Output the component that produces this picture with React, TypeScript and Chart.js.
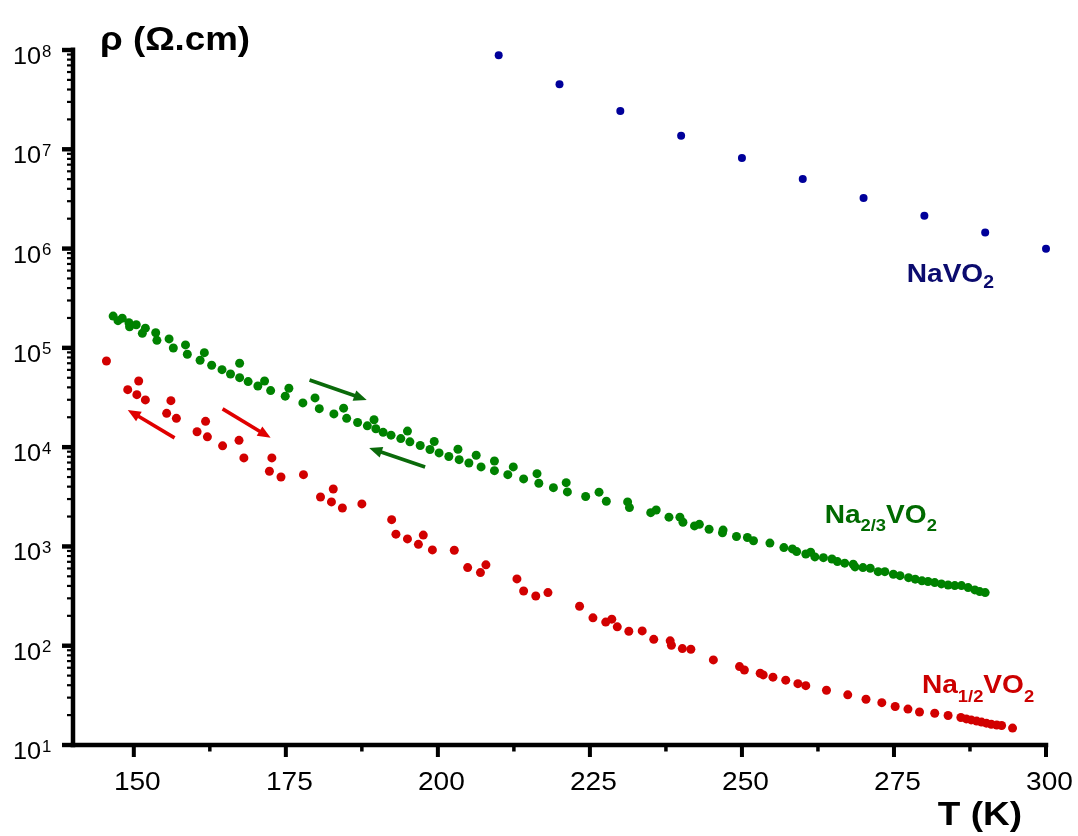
import React, { useEffect, useRef } from 'react';
import { Chart, registerables } from 'chart.js';

Chart.register(...registerables);

// ---- Data (T in K, rho in Ohm.cm) ----
const blueT = [210, 220, 230, 240, 250, 260, 270, 280, 290, 300];
const blueRho = [8.85e7, 4.51e7, 2.43e7, 1.37e7, 8.17e6, 5.02e6, 3.24e6, 2.14e6, 1.45e6, 9.93e5];

const greenT = [
  146.6, 147.4, 148.1, 149.2, 149.3, 150.4, 151.4, 151.9, 153.6, 153.8,
  155.8, 156.5, 158.5, 158.8, 160.9, 161.6, 162.8, 164.5, 165.9, 167.4,
  167.4, 168.8, 170.4, 171.5, 172.5, 174.9, 175.5, 177.8, 179.8, 180.5,
  182.9, 184.5, 185.0, 186.8, 188.4, 189.5, 189.8, 191.0, 192.3, 193.9,
  195.0, 195.4, 197.1, 198.7, 199.4, 200.2, 201.8, 203.3, 203.5, 205.1,
  206.3, 207.1, 209.3, 209.3, 211.5, 212.4, 214.1, 216.3, 216.6, 219.0,
  221.1, 221.3, 224.3, 226.5, 227.7, 231.2, 231.5, 235.0, 235.9, 238.0,
  239.8, 240.3, 242.2, 243.0, 244.6, 246.8, 246.9, 249.1, 250.9, 251.9,
  254.6, 256.9, 258.3, 259.0, 260.5, 261.3, 262.0, 263.4, 264.8, 265.7,
  266.9, 268.3, 268.6, 269.9, 271.1, 272.4, 273.5, 274.9, 276.0, 277.4,
  278.5, 279.6, 280.6, 281.7, 282.8, 283.9, 285.0, 286.1, 287.2, 288.3,
  289.1, 290.0,
];
const greenRho = [
  2.09e5, 1.88e5, 1.99e5, 1.79e5, 1.63e5, 1.71e5, 1.40e5, 1.58e5, 1.42e5, 1.19e5,
  1.23e5, 9.98e4, 1.07e5, 8.63e4, 7.50e4, 8.95e4, 6.68e4, 6.03e4, 5.46e4, 7.00e4,
  5.01e4, 4.57e4, 4.13e4, 4.64e4, 3.71e4, 3.26e4, 3.92e4, 2.79e4, 3.13e4, 2.44e4,
  2.16e4, 2.47e4, 1.95e4, 1.77e4, 1.64e4, 1.89e4, 1.53e4, 1.41e4, 1.32e4, 1.22e4,
  1.45e4, 1.13e4, 1.04e4, 9.48e3, 1.14e4, 8.75e3, 8.05e3, 9.53e3, 7.48e3, 6.93e3,
  8.28e3, 6.32e3, 7.26e3, 5.80e3, 5.28e3, 6.32e3, 4.79e3, 5.41e3, 4.33e3, 3.91e3,
  4.39e3, 3.54e3, 3.18e3, 3.52e3, 2.85e3, 2.81e3, 2.46e3, 2.19e3, 2.33e3, 1.97e3,
  1.97e3, 1.75e3, 1.61e3, 1.67e3, 1.49e3, 1.37e3, 1.46e3, 1.26e3, 1.23e3, 1.14e3,
  1.08e3, 973, 944, 887, 840, 875, 784, 771, 748, 703,
  678, 662, 622, 612, 603, 557, 557, 525, 508, 485,
  468, 450, 443, 432, 419, 409, 403, 403, 385, 365,
  351, 343,
];

const redT = [
  145.5, 149.0, 150.5, 150.8, 151.9, 155.4, 156.1, 157.0, 160.4, 161.8,
  162.1, 164.6, 167.3, 168.1, 172.3, 172.7, 174.2, 177.9, 180.7, 182.5,
  182.8, 184.3, 187.5, 192.4, 193.1, 195.0, 196.8, 197.6, 199.1, 202.7,
  204.9, 207.0, 207.9, 213.0, 214.1, 216.1, 218.1, 223.3, 225.5, 227.6,
  228.6, 229.5, 231.4, 233.6, 235.5, 238.2, 238.4, 240.2, 241.6, 245.3,
  249.6, 250.4, 253.0, 253.5, 255.1, 257.2, 259.2, 260.5, 263.9, 267.4,
  270.4, 273.0, 275.2, 277.3, 279.2, 281.7, 283.9, 286.0, 286.9, 287.7,
  288.6, 289.4, 290.2, 291.0, 291.9, 292.7, 294.5,
];
const redRho = [
  7.38e4, 3.79e4, 3.38e4, 4.64e4, 2.99e4, 2.19e4, 2.94e4, 1.95e4, 1.43e4, 1.82e4,
  1.27e4, 1.03e4, 1.17e4, 7.79e3, 5.72e3, 7.79e3, 5.01e3, 5.28e3, 3.15e3, 2.81e3,
  3.79e3, 2.44e3, 2.68e3, 1.86e3, 1.33e3, 1.19e3, 1.05e3, 1.30e3, 922, 916,
  612, 545, 652, 471, 356, 317, 343, 250, 191, 173,
  185, 155, 140, 141, 116, 112, 101, 93.5, 92.2, 71.9,
  61.6, 57.0, 52.8, 50.8, 48.2, 45.0, 41.5, 39.6, 35.6, 32.0,
  28.9, 26.7, 24.4, 23.0, 21.5, 20.9, 19.8, 18.9, 18.3, 17.9,
  17.4, 17.0, 16.6, 16.2, 15.9, 15.7, 14.8,
];

// ---- Axis ticks ----
const xMajorTicks = [150, 175, 200, 225, 250, 275, 300];
const xMinorTicks = [162.5, 187.5, 212.5, 237.5, 262.5, 287.5];
const yMajorExps = [1, 2, 3, 4, 5, 6, 7, 8];
const yMinorMults = [2, 3, 4, 5, 6, 7, 8, 9];

// ---- Annotations (data coordinates) ----
const greenArrows = [
  { from: [178.9, 4.75e4], to: [188.3, 2.99e4] },
  { from: [197.9, 6.3e3], to: [188.7, 9.8e3] },
];
const redArrows = [
  { from: [156.7, 1.24e4], to: [149.0, 2.37e4] },
  { from: [164.6, 2.43e4], to: [172.5, 1.24e4] },
];

const seriesLabels = [
  { parts: [['NaVO', 0], ['2', 1]], T: 277.1, rho: 4.65e5, color: '#0b0b6e', sub: 18, subDy: 6.6 },
  { parts: [['Na', 0], ['2/3', 1], ['VO', 0], ['2', 1]], T: 263.6, rho: 1.74e3, color: '#006a00', sub: 17, subDy: 8 },
  { parts: [['Na', 0], ['1/2', 1], ['VO', 0], ['2', 1]], T: 279.6, rho: 33.3, color: '#cc0000', sub: 17, subDy: 8.4 },
];

const FONT = '"Liberation Sans", Arial, Helvetica, sans-serif';

function drawText(ctx: CanvasRenderingContext2D, text: string, x: number, y: number, font: string, stretch: number, align: string) {
  ctx.font = font;
  const w = ctx.measureText(text).width * stretch;
  let left = x;
  if (align === 'center') left = x - w / 2;
  else if (align === 'right') left = x - w;
  ctx.save();
  ctx.translate(left, y);
  ctx.scale(stretch, 1);
  ctx.textAlign = 'left';
  ctx.textBaseline = 'alphabetic';
  ctx.fillText(text, 0, 0);
  ctx.restore();
  return w;
}

function drawArrow(ctx: CanvasRenderingContext2D, x1: number, y1: number, x2: number, y2: number, color: string) {
  const ang = Math.atan2(y2 - y1, x2 - x1);
  const headLen = 13;
  const headHalf = 5.5;
  const bx = x2 - headLen * Math.cos(ang);
  const by = y2 - headLen * Math.sin(ang);
  ctx.save();
  ctx.strokeStyle = color;
  ctx.fillStyle = color;
  ctx.lineWidth = 3.6;
  ctx.lineCap = 'butt';
  ctx.beginPath();
  ctx.moveTo(x1, y1);
  ctx.lineTo(bx + 2 * Math.cos(ang), by + 2 * Math.sin(ang));
  ctx.stroke();
  ctx.beginPath();
  ctx.moveTo(x2, y2);
  ctx.lineTo(bx - headHalf * Math.sin(ang), by + headHalf * Math.cos(ang));
  ctx.lineTo(bx + headHalf * Math.sin(ang), by - headHalf * Math.cos(ang));
  ctx.closePath();
  ctx.fill();
  ctx.restore();
}

const decorPlugin = {
  id: 'decor',
  afterDatasetsDraw(chart: any) {
    const { ctx, chartArea: ca, scales } = chart;
    const xs = scales.x;
    const ys = scales.y;
    ctx.save();

    // arrows
    greenArrows.forEach((a) => {
      drawArrow(ctx, xs.getPixelForValue(a.from[0]), ys.getPixelForValue(a.from[1]),
        xs.getPixelForValue(a.to[0]), ys.getPixelForValue(a.to[1]), '#0a6a0a');
    });
    redArrows.forEach((a) => {
      drawArrow(ctx, xs.getPixelForValue(a.from[0]), ys.getPixelForValue(a.from[1]),
        xs.getPixelForValue(a.to[0]), ys.getPixelForValue(a.to[1]), '#e00000');
    });

    // axes
    ctx.fillStyle = '#000';
    ctx.fillRect(ca.left - 2.25, ca.top - 2.5, 4.5, ca.bottom - ca.top + 4.75);
    ctx.fillRect(ca.left - 2.25, ca.bottom - 2.25, ca.right - ca.left + 4.5, 4.5);

    // y ticks
    yMajorExps.forEach((e) => {
      const py = ys.getPixelForValue(Math.pow(10, e));
      ctx.fillRect(ca.left - 11, py - 2.2, 9, 4.4);
    });
    for (let e = 1; e < 8; e++) {
      yMinorMults.forEach((m) => {
        const py = ys.getPixelForValue(m * Math.pow(10, e));
        ctx.fillRect(ca.left - 6, py - 1.1, 4, 2.2);
      });
    }
    // x ticks
    xMajorTicks.forEach((t) => {
      const px = xs.getPixelForValue(t);
      ctx.fillRect(px - 2, ca.bottom, 4, 12);
    });
    xMinorTicks.forEach((t) => {
      const px = xs.getPixelForValue(t);
      ctx.fillRect(px - 1.75, ca.bottom, 3.5, 6.5);
    });

    // tick labels
    ctx.fillStyle = '#000';
    xMajorTicks.forEach((t) => {
      const px = xs.getPixelForValue(t);
      drawText(ctx, String(t), px + 3.5, ca.bottom + 45, `26px ${FONT}`, 1.08, 'center');
    });
    yMajorExps.forEach((e) => {
      const py = ys.getPixelForValue(Math.pow(10, e));
      drawText(ctx, '10', ca.left - 32, py + 14, `24.5px ${FONT}`, 1.03, 'right');
      drawText(ctx, String(e), ca.left - 31, py + 6.5, `16px ${FONT}`, 1.05, 'left');
    });

    // axis titles
    drawText(ctx, 'ρ (Ω.cm)', ca.left + 27, ca.top, `bold 34px ${FONT}`, 1.08, 'left');
    drawText(ctx, 'T (K)', ca.right - 24, ca.bottom + 80, `bold 33px ${FONT}`, 1.12, 'right');

    // series labels
    seriesLabels.forEach((lab) => {
      let px = xs.getPixelForValue(lab.T);
      const py = ys.getPixelForValue(lab.rho);
      ctx.fillStyle = lab.color;
      lab.parts.forEach((p) => {
        const [txt, isSub] = p as [string, number];
        if (isSub) {
          px += drawText(ctx, txt, px, py + lab.subDy, `bold ${lab.sub}px ${FONT}`, 1.08, 'left');
        } else {
          px += drawText(ctx, txt, px, py, `bold 26px ${FONT}`, 1.08, 'left');
        }
      });
    });

    ctx.restore();
  },
};

function toPoints(xsArr: number[], ysArr: number[]) {
  return xsArr.map((v, i) => ({ x: v, y: ysArr[i] }));
}

export default function App() {
  const ref = useRef<HTMLCanvasElement>(null);
  useEffect(() => {
    const canvas = ref.current;
    if (!canvas) return;
    const chart = new Chart(canvas, {
      type: 'scatter',
      data: {
        datasets: [
          {
            label: 'NaVO2',
            data: toPoints(blueT, blueRho),
            backgroundColor: '#00009a',
            borderWidth: 0,
            pointRadius: 4,
            clip: false,
          },
          {
            label: 'Na2/3VO2',
            data: toPoints(greenT, greenRho),
            backgroundColor: '#008200',
            borderWidth: 0,
            pointRadius: 4.5,
            clip: false,
          },
          {
            label: 'Na1/2VO2',
            data: toPoints(redT, redRho),
            backgroundColor: '#d20000',
            borderWidth: 0,
            pointRadius: 4.5,
            clip: false,
          },
        ],
      },
      options: {
        responsive: false,
        animation: false,
        devicePixelRatio: 1,
        layout: { padding: { top: 50, right: 32, left: 0, bottom: 0 } },
        plugins: {
          legend: { display: false },
          tooltip: { enabled: false },
        },
        scales: {
          x: {
            type: 'linear',
            min: 140,
            max: 300,
            grid: { display: false },
            border: { display: false },
            ticks: { display: false },
            afterFit: (s: any) => { s.height = 91; },
          },
          y: {
            type: 'logarithmic',
            min: 10,
            max: 1e8,
            grid: { display: false },
            border: { display: false },
            ticks: { display: false },
            afterFit: (s: any) => { s.width = 73; },
          },
        },
      } as any,
      plugins: [decorPlugin],
    });
    return () => chart.destroy();
  }, []);
  return (
    <div style={{ position: 'fixed', left: 0, top: 0, width: 1078, height: 836, background: '#fff' }}>
      <canvas ref={ref} width={1078} height={836} style={{ width: 1078, height: 836, display: 'block' }} />
    </div>
  );
}
